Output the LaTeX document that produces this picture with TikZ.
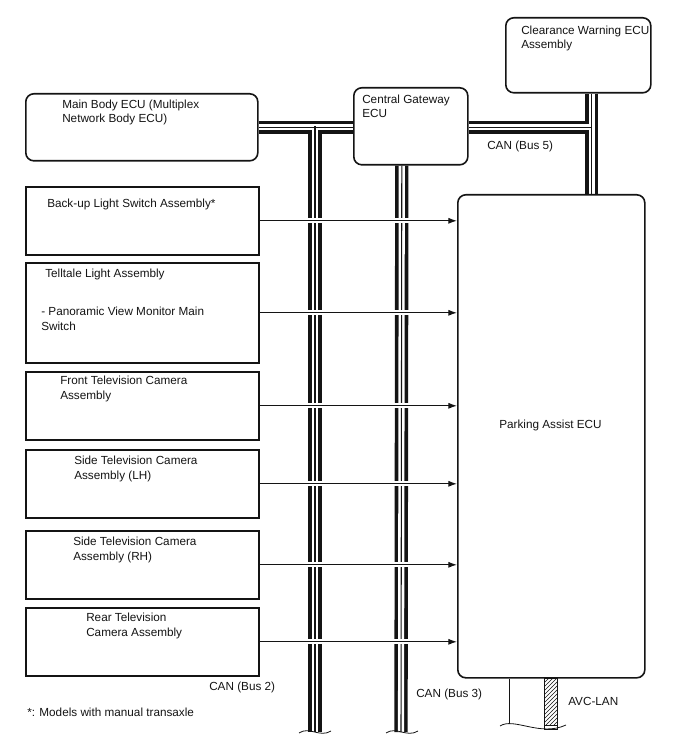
\documentclass[tikz,border=0pt]{standalone}
\usepackage{fontspec}
\setmainfont{Liberation Sans}
\usetikzlibrary{arrows.meta,calc,patterns,backgrounds}
\definecolor{ink}{HTML}{141414}
\tikzset{
  ecu/.style={draw=ink, line width=1.2pt, rounded corners=6pt, fill=white, anchor=north west, inner sep=0pt},
  part/.style={draw=ink, line width=1.2pt, fill=white, anchor=north west, inner sep=0pt},
  sz/.style 2 args={minimum width=#1*0.75pt, minimum height=#2*0.75pt},
  txt/.style={anchor=base west, inner sep=0pt, align=left, font=\fontsize{8.8}{10.6}\selectfont, text=ink},
  bus/.style={draw=ink, line width=10pt,
    postaction={draw=white, line width=4.6pt},
    postaction={draw=ink, line width=0.8pt}},
  sig/.style={draw=ink, line width=0.85pt, -{Latex[length=6.5pt,width=4.6pt]},
    preaction={draw=white, -, line width=4pt, shorten <=2pt, shorten >=9pt}},
  cut/.style={draw=ink, line width=0.6pt},
}
\begin{document}
\begin{tikzpicture}[x=0.75pt, y=-0.75pt]
\useasboundingbox (0,0) rectangle (688,755);

% ---- ECUs on the CAN lines
\node[ecu, sz={145}{75}]  (cw) at (505,17)  {};
\node[ecu, sz={232}{67}]  (mb) at (25,93)   {};
\node[ecu, sz={114}{77}]  (cg) at (353,87)  {};
\node[ecu, sz={187}{483}] (pa) at (457,194) {};

% (base of a two-line label = base of its last line)
\node[txt] (cwt) at (521,49)  {Clearance Warning ECU\\Assembly};
\node[txt] (mbt) at (62,123)  {Main Body ECU (Multiplex\\Network Body ECU)};
\node[txt] (cgt) at (362,118) {Central Gateway\\ECU};
\node[txt, anchor=base] (pat) at (550.5,428) {Parking Assist ECU};

% ---- parts wired straight to the parking assist ECU
\node[part, sz={233}{68}]  (b1) at (25,186) {};
\node[part, sz={233}{100}] (b2) at (25,262) {};
\node[part, sz={233}{68}]  (b3) at (25,371) {};
\node[part, sz={233}{68}]  (b4) at (25,449) {};
\node[part, sz={233}{68}]  (b5) at (25,530) {};
\node[part, sz={233}{68}]  (b6) at (25,607) {};

\node[txt] (b1t)  at (47,208) {Back-up Light Switch Assembly*};
\node[txt] (b2t)  at (45,277) {Telltale Light Assembly};
\node[txt] (b2s)  at (41,330) {- Panoramic View Monitor Main\\Switch};
\node[txt] (b3t)  at (60,399) {Front Television Camera\\Assembly};
\node[txt] (b4t)  at (74,479) {Side Television Camera\\Assembly (LH)};
\node[txt] (b5t)  at (73,560) {Side Television Camera\\Assembly (RH)};
\node[txt] (b6t)  at (86,636) {Rear Television\\Camera Assembly};

% ---- CAN buses (behind the boxes)
\coordinate (bus2top) at (315,126);
\coordinate (bus2end) at (315,732);
\coordinate (bus3top) at ($(cg.south)+(-9,0)$);
\coordinate (bus3end) at (401,732);
\coordinate (bus5top) at ($(cw.south)+(13.5,0)$);
\coordinate (bus5bot) at ($(pa.north)+(40.5,0)$);
\begin{scope}[on background layer]
  \draw[bus] (mb.east) -- (cg.west |- mb.east) (bus2top) -- (bus2end);
  \draw[bus] (bus3top) -- (bus3end);
  \draw[bus] (cg.east |- mb.east) -- (bus5top |- mb.east) (bus5top) -- (bus5bot);
\end{scope}

% ---- direct signal lines
\foreach \b in {b1,b2,b3,b4,b5,b6}
  \draw[sig] (\b.east) -- (pa.west |- \b.east);

% ---- cut ends of the buses
\draw[cut] (299,733) .. controls (309,726) and (320,738) .. (331,731);
\draw[cut] (386,733) .. controls (396,726) and (407,738) .. (418,731);

% ---- AVC-LAN below the parking assist ECU
\coordinate (avcA) at ($(pa.south west)+(52,0)$);
\coordinate (avcB) at ($(pa.south west)+(87,0)$);
\draw[cut] (avcA) -- ++(0,46);
\draw[cut, pattern=north east lines, pattern color=ink] (avcB) rectangle ++(13,51);
\draw[cut, fill=white] (500,726) .. controls (514,717) and (540,737) .. (566,725);
\draw[cut] (avcB) ++(0,47) rectangle ++(13,4);

% ---- bus names and note
\node[txt] (l5) at (487,150) {CAN (Bus 5)};
\node[txt] (l2) at (209,690) {CAN (Bus 2)};
\node[txt] (l3) at (416,697) {CAN (Bus 3)};
\node[txt] (lav) at (568,705) {AVC-LAN};
\node[txt] (note) at (27,716) {*: Models with manual transaxle};

\end{tikzpicture}
\end{document}
